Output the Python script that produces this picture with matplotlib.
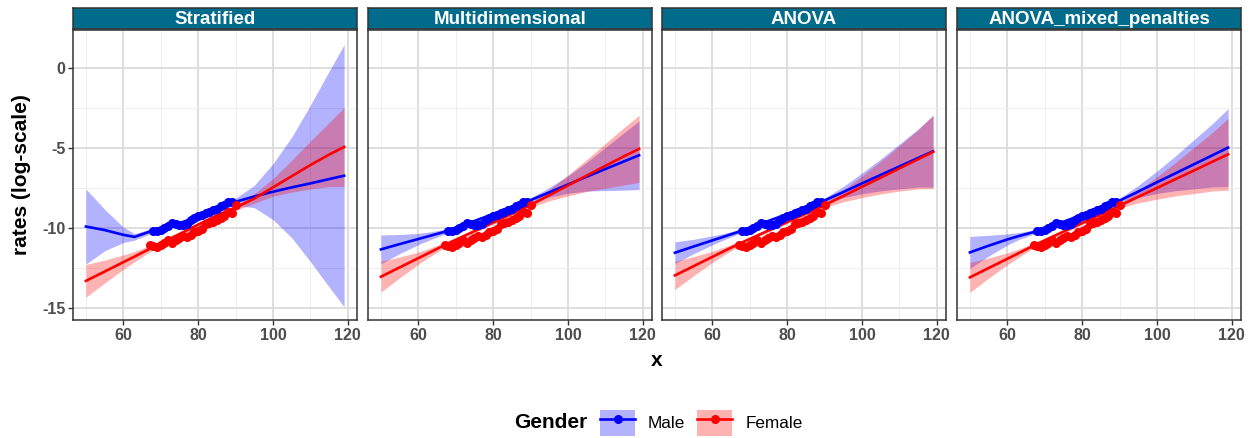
import matplotlib
matplotlib.use('Agg')
import matplotlib.pyplot as plt
from matplotlib.patches import Patch
from matplotlib.lines import Line2D
from matplotlib.ticker import MultipleLocator

plt.rcParams['font.family'] = ['Liberation Sans', 'DejaVu Sans']
plt.rcParams['axes.unicode_minus'] = False

panels = ['Stratified', 'Multidimensional', 'ANOVA', 'ANOVA_mixed_penalties']

# observed points (same in every panel)
male_x = list(range(68, 90))
male_y = [-10.20, -10.15, -10.10, -10.00, -9.85, -9.67, -9.75, -9.78, -9.80, -9.72, -9.48,
          -9.38, -9.22, -9.15, -9.05, -8.97, -8.88, -8.80, -8.60, -8.55, -8.38, -8.35]
female_x = list(range(67, 91))
female_y = [-11.08, -11.10, -11.20, -11.08, -10.95, -10.75, -10.95, -10.72, -10.60, -10.48,
            -10.55, -10.42, -10.25, -10.15, -10.05, -9.75, -9.70, -9.62, -9.50, -9.35,
            -9.25, -9.00, -9.05, -8.55]

# fitted curves, read at these x values
fit_x = [50, 55, 60, 63, 67, 70, 75, 80, 85, 90, 95, 100, 105, 110, 115, 119]

strat_male = [-9.90, -10.12, -10.42, -10.55, -10.22, -10.05, -9.70, -9.25, -8.82, -8.35,
              -8.02, -7.72, -7.45, -7.20, -6.93, -6.72]
strat_male_hw = [2.35, 1.30, 0.48, 0.20, 0.15, 0.13, 0.12, 0.12, 0.14, 0.22,
                 0.70, 1.75, 3.15, 4.90, 6.75, 8.20]
strat_female = [-13.30, -12.72, -12.13, -11.78, -11.30, -10.95, -10.37, -9.78, -9.20, -8.72,
                -8.15, -7.45, -6.75, -6.05, -5.40, -4.92]
strat_female_hw = [1.02, 0.72, 0.45, 0.32, 0.20, 0.15, 0.12, 0.12, 0.13, 0.17,
                   0.30, 0.55, 1.00, 1.50, 2.00, 2.48]

multi_male = [-11.33, -11.00, -10.68, -10.49, -10.23, -9.98, -9.55, -9.12, -8.68, -8.25,
              -7.76, -7.27, -6.78, -6.30, -5.82, -5.44]
multi_male_hw = [0.90, 0.60, 0.35, 0.25, 0.15, 0.12, 0.10, 0.10, 0.12, 0.15,
                 0.30, 0.55, 0.90, 1.35, 1.80, 2.15]
multi_female = [-13.04, -12.46, -11.88, -11.53, -11.06, -10.73, -10.19, -9.65, -9.10, -8.56,
                -7.94, -7.33, -6.71, -6.10, -5.50, -5.04]
multi_female_hw = [0.97, 0.65, 0.38, 0.27, 0.16, 0.12, 0.10, 0.10, 0.10, 0.15,
                   0.35, 0.65, 1.00, 1.40, 1.80, 2.10]

anova_male = [-11.54, -11.15, -10.77, -10.54, -10.23, -9.98, -9.55, -9.12, -8.70, -8.27,
              -7.74, -7.20, -6.67, -6.14, -5.61, -5.19]
anova_male_hw = [0.68, 0.45, 0.28, 0.20, 0.13, 0.10, 0.10, 0.10, 0.10, 0.15,
                 0.35, 0.65, 1.00, 1.40, 1.82, 2.25]
anova_female = [-12.96, -12.38, -11.80, -11.45, -11.00, -10.68, -10.15, -9.62, -9.09, -8.56,
                -7.99, -7.41, -6.84, -6.26, -5.69, -5.23]
anova_female_hw = [0.88, 0.60, 0.35, 0.25, 0.15, 0.10, 0.10, 0.10, 0.10, 0.15,
                   0.36, 0.68, 1.02, 1.42, 1.85, 2.30]

mixed_male = [-11.52, -11.10, -10.71, -10.50, -10.25, -10.02, -9.60, -9.17, -8.73, -8.28,
              -7.71, -7.13, -6.56, -5.99, -5.42, -4.96]
mixed_male_hw = [1.00, 0.65, 0.35, 0.22, 0.13, 0.10, 0.10, 0.10, 0.10, 0.15,
                 0.38, 0.70, 1.10, 1.55, 2.00, 2.44]
mixed_female = [-13.08, -12.50, -11.92, -11.57, -11.10, -10.76, -10.22, -9.68, -9.14, -8.60,
                -8.04, -7.49, -6.93, -6.38, -5.82, -5.38]
mixed_female_hw = [0.94, 0.63, 0.37, 0.26, 0.15, 0.10, 0.10, 0.10, 0.10, 0.15,
                   0.38, 0.70, 1.05, 1.45, 1.85, 2.25]

fits = [
    (strat_male, strat_male_hw, strat_female, strat_female_hw),
    (multi_male, multi_male_hw, multi_female, multi_female_hw),
    (anova_male, anova_male_hw, anova_female, anova_female_hw),
    (mixed_male, mixed_male_hw, mixed_female, mixed_female_hw),
]

BLUE = '#0000FF'
RED = '#FF0000'
STRIP = '#006B8B'
W, H = 1256, 438

fig = plt.figure(figsize=(W / 100, H / 100), dpi=100)

panel_left = [73, 368, 662, 957]
panel_w = 284
panel_top, panel_bot = 30, 320

for i, name in enumerate(panels):
    l = panel_left[i] / W
    ax = fig.add_axes([l, 1 - panel_bot / H, panel_w / W, (panel_bot - panel_top) / H])
    m_fit, m_hw, f_fit, f_hw = fits[i]
    m_lo = [a - b for a, b in zip(m_fit, m_hw)]
    m_hi = [a + b for a, b in zip(m_fit, m_hw)]
    f_lo = [a - b for a, b in zip(f_fit, f_hw)]
    f_hi = [a + b for a, b in zip(f_fit, f_hw)]

    ax.fill_between(fit_x, m_lo, m_hi, color=BLUE, alpha=0.3, lw=0, zorder=2)
    ax.fill_between(fit_x, f_lo, f_hi, color=RED, alpha=0.3, lw=0, zorder=2)
    ax.plot(fit_x, m_fit, color=BLUE, lw=1.9, zorder=3)
    ax.plot(fit_x, f_fit, color=RED, lw=1.9, zorder=3)
    ax.plot(male_x, male_y, 'o', color=BLUE, ms=5.5, zorder=4)
    ax.plot(female_x, female_y, 'o', color=RED, ms=5.5, zorder=4)

    ax.set_xlim(46.55, 122.45)
    ax.set_ylim(-15.75, 2.4)
    ax.xaxis.set_major_locator(MultipleLocator(20))
    ax.xaxis.set_minor_locator(MultipleLocator(10))
    ax.yaxis.set_major_locator(MultipleLocator(5))
    ax.yaxis.set_minor_locator(MultipleLocator(2.5))
    ax.grid(which='major', color='#DBDBDB', lw=1.3, zorder=0)
    ax.grid(which='minor', color='#EEEEEE', lw=0.7, zorder=0)
    ax.set_axisbelow(True)
    ax.tick_params(which='major', length=3.5, width=1, color='#333333',
                   labelsize=11.5, labelcolor='#4D4D4D', pad=2)
    ax.tick_params(which='minor', length=0)
    for lab in ax.get_xticklabels() + ax.get_yticklabels():
        lab.set_fontweight('bold')
    if i > 0:
        ax.tick_params(axis='y', which='major', length=0, labelleft=False)
    for sp in ax.spines.values():
        sp.set_color('#333333')
        sp.set_linewidth(1.1)

    # facet strip
    sax = fig.add_axes([l, 1 - 29 / H, panel_w / W, 21 / H])
    sax.set_facecolor(STRIP)
    sax.set_xticks([])
    sax.set_yticks([])
    for sp in sax.spines.values():
        sp.set_color('#333333')
        sp.set_linewidth(1.1)
    sax.text(0.5, 0.45, name, transform=sax.transAxes, ha='center', va='center',
             color='white', fontsize=13.5, fontweight='bold')

fig.text(657 / W, 1 - 360 / H, 'x', ha='center', va='center',
         fontsize=15, fontweight='bold')
fig.text(22 / W, 1 - 175 / H, 'rates (log-scale)', ha='center', va='center',
         rotation=90, fontsize=15, fontweight='bold')

# legend
fig.text(587 / W, 1 - 423 / H, 'Gender', ha='right', va='center',
         fontsize=15, fontweight='bold')
handles = [
    (Patch(facecolor=BLUE, alpha=0.3, edgecolor='none'),
     Line2D([], [], color=BLUE, lw=1.9, marker='o', ms=5.5)),
    (Patch(facecolor=RED, alpha=0.3, edgecolor='none'),
     Line2D([], [], color=RED, lw=1.9, marker='o', ms=5.5)),
]
fig.legend(handles, ['Male', 'Female'], loc='center left',
           bbox_to_anchor=(600 / W, 1 - 423 / H), ncol=2, frameon=False,
           fontsize=12.3, handlelength=2.05, handleheight=1.94,
           handletextpad=0.76, columnspacing=0.7, borderpad=0, borderaxespad=0)

fig.savefig('out.png', dpi=100)
